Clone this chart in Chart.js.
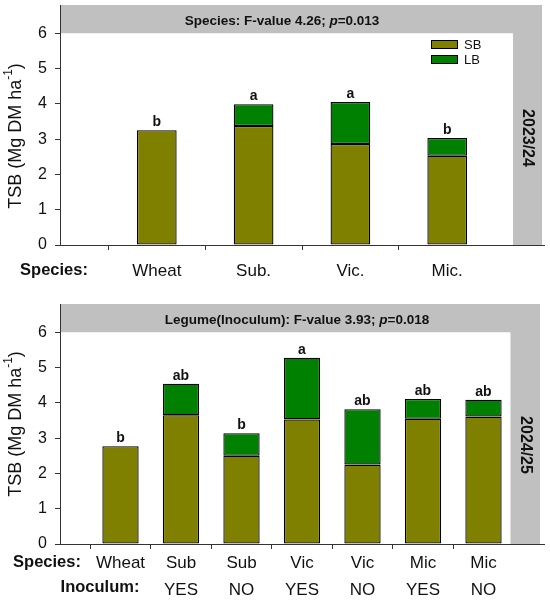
<!DOCTYPE html>
<html>
<head>
<meta charset="utf-8">
<script src="https://cdn.jsdelivr.net/npm/chart.js@4.4.1/dist/chart.umd.min.js"></script>
<style>
  body { margin: 0; background: #fff; }
  .panel { position: relative; width: 550px; }
</style>
</head>
<body>
<div class="panel" style="height:300px"><canvas id="chart2023"></canvas></div>
<div class="panel" style="height:301px"><canvas id="chart2024"></canvas></div>
<script>
// 2023/24 season
const species2023 = ['Wheat', 'Sub.', 'Vic.', 'Mic.']
const sb2023 = [3.25, 3.37, 2.86, 2.53]
const lb2023 = [0, 0.62, 1.19, 0.50]
const letters2023 = ['b', 'a', 'a', 'b']

// 2024/25 season
const species2024 = ['Wheat', 'Sub', 'Sub', 'Vic', 'Vic', 'Mic', 'Mic']
const inoculum2024 = ['', 'YES', 'NO', 'YES', 'NO', 'YES', 'NO']
const sb2024 = [2.77, 3.65, 2.50, 3.53, 2.25, 3.55, 3.61]
const lb2024 = [0, 0.89, 0.64, 1.75, 1.57, 0.56, 0.48]
const letters2024 = ['b', 'ab', 'b', 'a', 'ab', 'ab', 'ab']

const yTicks = [0, 1, 2, 3, 4, 5, 6]

const SB_COLOR = '#7f7f00'
const LB_COLOR = '#008000'
const FONT = "'Liberation Sans', Arial, sans-serif"

Chart.defaults.font.family = FONT
Chart.defaults.color = '#111'

// pad a list with an empty slot at each end (axis starts and ends at empty slots)
const pad = (arr, blank) => [blank, ...arr, blank]

function drawYTitle(ctx, x, y) {
  ctx.save()
  ctx.translate(x, y)
  ctx.rotate(-Math.PI / 2)
  ctx.fillStyle = '#111'
  ctx.textBaseline = 'middle'
  ctx.textAlign = 'left'
  const main = 'TSB (Mg DM ha'
  const sup = '-1'
  ctx.font = '18px ' + FONT
  const w1 = ctx.measureText(main).width
  const w3 = ctx.measureText(')').width
  ctx.font = '12px ' + FONT
  const w2 = ctx.measureText(sup).width
  let cx = -(w1 + w2 + w3) / 2
  ctx.font = '18px ' + FONT
  ctx.fillText(main, cx, 0)
  cx += w1
  ctx.font = '12px ' + FONT
  ctx.fillText(sup, cx, -7)
  cx += w2
  ctx.font = '18px ' + FONT
  ctx.fillText(')', cx, 0)
  ctx.restore()
}

function drawBandText(ctx, parts, cx, cy) {
  ctx.save()
  ctx.textBaseline = 'middle'
  ctx.textAlign = 'left'
  ctx.fillStyle = '#111'
  let total = 0
  parts.forEach(p => {
    ctx.font = (p.italic ? 'italic ' : '') + 'bold 13.5px ' + FONT
    p.w = ctx.measureText(p.text).width
    total += p.w
  })
  let x = cx - total / 2
  parts.forEach(p => {
    ctx.font = (p.italic ? 'italic ' : '') + 'bold 13.5px ' + FONT
    ctx.fillText(p.text, x, cy)
    x += p.w
  })
  ctx.restore()
}

const panelDecor = {
  id: 'panelDecor',
  beforeDraw(chart, args, o) {
    const {ctx, chartArea: {left, right, top, bottom}, scales: {y}} = chart
    const y6 = y.getPixelForValue(6)
    ctx.save()
    ctx.fillStyle = '#c0c0c0'
    ctx.fillRect(left, top, right - o.gap - left, y6 - top)
    ctx.fillRect(right - o.gap - o.strip, top, o.strip, bottom - top)
    ctx.restore()
  },
  afterDraw(chart, args, o) {
    const {ctx, chartArea: {right}, scales: {x, y}} = chart
    const sb = chart.data.datasets[0].data
    const lb = chart.data.datasets[1].data
    ctx.save()
    // significance letters
    ctx.font = 'bold 14px ' + FONT
    ctx.fillStyle = '#111'
    ctx.textAlign = 'center'
    ctx.textBaseline = 'bottom'
    o.letters.forEach((t, i) => {
      const idx = i + 1
      const yy = y.getPixelForValue(sb[idx] + lb[idx])
      ctx.fillText(t, x.getPixelForValue(idx), yy - 1)
    })
    // season label in the grey strip
    ctx.save()
    ctx.translate(right - o.gap - o.strip / 2, o.yearY)
    ctx.rotate(Math.PI / 2)
    ctx.font = 'bold 16px ' + FONT
    ctx.textBaseline = 'middle'
    ctx.fillText(o.year, 0, 0)
    ctx.restore()
    // row labels
    ctx.font = 'bold 16.5px ' + FONT
    ctx.textBaseline = 'middle'
    o.rowLabels.forEach(r => ctx.fillText(r.text, r.x, r.y))
    ctx.restore()

    drawBandText(ctx, o.band, o.bandX, o.bandY)
    drawYTitle(ctx, 16, o.titleY)

    // legend
    if (o.legend) {
      ctx.save()
      chart.data.datasets.forEach((ds, i) => {
        const ly = 40 + i * 15
        ctx.fillStyle = ds.backgroundColor
        ctx.fillRect(431, ly, 27, 9)
        ctx.strokeStyle = '#000'
        ctx.lineWidth = 1
        ctx.strokeRect(431.5, ly + 0.5, 26, 8)
        ctx.fillStyle = '#111'
        ctx.font = '13px ' + FONT
        ctx.textAlign = 'left'
        ctx.textBaseline = 'middle'
        ctx.fillText(ds.label, 464, ly + 5)
      })
      ctx.restore()
    }
  }
}

function makeChart(id, labels, sb, lb, opts) {
  const n = labels.length
  const barStyle = {
    borderColor: '#000',
    borderWidth: 1.3,
    borderSkipped: false,
    categoryPercentage: 1,
    barPercentage: opts.barPct
  }
  return new Chart(document.getElementById(id), {
    type: 'bar',
    data: {
      labels: labels,
      datasets: [
        Object.assign({ label: 'SB', data: pad(sb, null), backgroundColor: SB_COLOR }, barStyle),
        Object.assign({ label: 'LB', data: pad(lb, null), backgroundColor: LB_COLOR }, barStyle)
      ]
    },
    options: {
      responsive: true,
      maintainAspectRatio: false,
      animation: false,
      layout: { padding: { left: 0, right: 6, top: opts.top, bottom: 0 } },
      plugins: {
        legend: { display: false },
        tooltip: { enabled: false },
        panelDecor: opts.decor
      },
      scales: {
        x: {
          stacked: true,
          offset: false,
          grid: {
            drawOnChartArea: false,
            tickLength: 5,
            tickColor: c => (c.index === 0 || c.index === n - 1) ? 'rgba(0,0,0,0)' : '#333'
          },
          border: { color: '#333', width: 1 },
          ticks: {
            autoSkip: false,
            maxRotation: 0,
            padding: opts.xPad,
            font: { size: 17, lineHeight: 1.6 },
            color: '#111'
          },
          afterFit: s => {
            s.height = opts.xHeight
            s.paddingLeft = 0
            s.paddingRight = 0
          }
        },
        y: {
          stacked: true,
          min: 0,
          max: 6.8,
          grid: { drawOnChartArea: false, tickLength: 5, tickColor: '#333' },
          border: { color: '#333', width: 1 },
          ticks: { padding: 8, font: { size: 16 }, color: '#111' },
          afterBuildTicks: s => { s.ticks = yTicks.map(v => ({ value: v })) },
          afterFit: s => {
            s.width = 60
            s.paddingTop = 0
            s.paddingBottom = 0
          }
        }
      }
    },
    plugins: [panelDecor]
  })
}

makeChart('chart2023', pad(species2023, ''), sb2023, lb2023, {
  barPct: 0.41,
  top: 5,
  xPad: 8,
  xHeight: 55,
  decor: {
    gap: 2,
    strip: 29,
    letters: letters2023,
    year: '2023/24',
    yearY: 138,
    rowLabels: [{ text: 'Species:', x: 54, y: 270 }],
    band: [{ text: 'Species: F-value 4.26; ' }, { text: 'p', italic: true }, { text: '=0.013' }],
    bandX: 282,
    bandY: 21,
    titleY: 136,
    legend: true
  }
})

const labels2024 = species2024.map((s, i) => inoculum2024[i] ? [s, inoculum2024[i]] : [s])
makeChart('chart2024', pad(labels2024, ['']), sb2024, lb2024, {
  barPct: 0.6,
  top: 4,
  xPad: 1,
  xHeight: 57,
  decor: {
    gap: 4,
    strip: 29.5,
    letters: letters2024,
    year: '2024/25',
    yearY: 145,
    rowLabels: [
      { text: 'Species:', x: 47, y: 262 },
      { text: 'Inoculum:', x: 100, y: 287 }
    ],
    band: [{ text: 'Legume(Inoculum): F-value 3.93; ' }, { text: 'p', italic: true }, { text: '=0.018' }],
    bandX: 297,
    bandY: 20.5,
    titleY: 124,
    legend: false
  }
})
</script>
</body>
</html>
